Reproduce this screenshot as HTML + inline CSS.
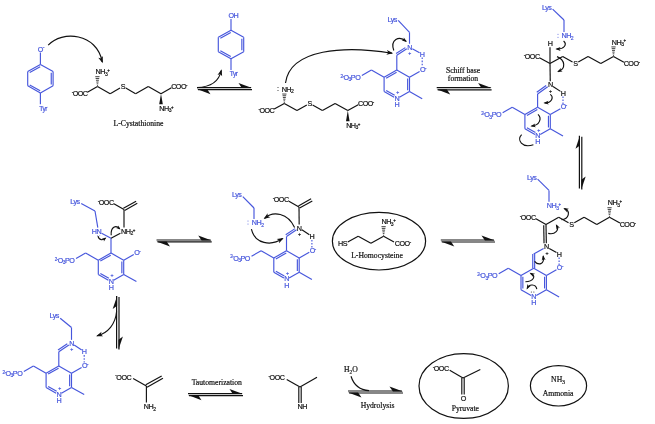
<!DOCTYPE html>
<html><head><meta charset="utf-8"><title>Cystathionine beta-lyase mechanism</title>
<style>html,body{margin:0;padding:0;background:#fff}svg{display:block;filter:blur(0.45px)}text{stroke-width:0.2px;paint-order:stroke fill}</style></head>
<body><svg width="655" height="424" viewBox="0 0 655 424" stroke-linecap="butt">
<rect width="655" height="424" fill="#fff"/>
<line x1="40.4" y1="64.4" x2="53.1" y2="71.55" stroke="#4656dc" stroke-width="1.15"/>
<line x1="53.1" y1="85.85" x2="40.4" y2="93" stroke="#4656dc" stroke-width="1.15"/>
<line x1="27.7" y1="85.85" x2="27.7" y2="71.55" stroke="#4656dc" stroke-width="1.15"/>
<line x1="27.7" y1="71.55" x2="40.4" y2="64.4" stroke="#4656dc" stroke-width="1.15"/>
<line x1="29.74" y1="72.52" x2="40.17" y2="66.65" stroke="#4656dc" stroke-width="1.15"/>
<line x1="53.1" y1="71.55" x2="53.1" y2="85.85" stroke="#4656dc" stroke-width="1.15"/>
<line x1="51.25" y1="72.85" x2="51.25" y2="84.55" stroke="#4656dc" stroke-width="1.15"/>
<line x1="40.4" y1="93" x2="27.7" y2="85.85" stroke="#4656dc" stroke-width="1.15"/>
<line x1="40.17" y1="90.75" x2="29.74" y2="84.88" stroke="#4656dc" stroke-width="1.15"/>
<line x1="40.4" y1="64.4" x2="40.4" y2="52.4" stroke="#4656dc" stroke-width="1.15"/>
<text x="37.85" y="51.58" fill="#4656dc" stroke="#4656dc" font-size="7.2" letter-spacing="-0.5" font-family='"Liberation Sans", Arial, sans-serif'>O<tspan dy="-2.16" font-size="4.46">-</tspan></text>
<line x1="40.4" y1="93" x2="40.4" y2="104.3" stroke="#4656dc" stroke-width="1.15"/>
<text x="39.3" y="110.66" fill="#4656dc" stroke="#4656dc" font-size="6.6" letter-spacing="-0.46" font-family='"Liberation Sans", Arial, sans-serif'>Tyr</text>
<path d="M48.2 45.2C62 30 97 33 102.3 62" fill="none" stroke="#111" stroke-width="1.15"/>
<polygon points="102.68,63.14 102.87,56.12 101.12,58.44 98.32,57.63" fill="#111"/>
<line x1="97.5" y1="86.5" x2="87.41" y2="92.18" stroke="#111" stroke-width="1.15"/>
<line x1="97.5" y1="86.5" x2="110.2" y2="93.65" stroke="#111" stroke-width="1.15"/>
<line x1="110.2" y1="93.65" x2="120.02" y2="88.12" stroke="#111" stroke-width="1.15"/>
<line x1="125.78" y1="88.12" x2="135.6" y2="93.65" stroke="#111" stroke-width="1.15"/>
<line x1="135.6" y1="93.65" x2="148.3" y2="86.5" stroke="#111" stroke-width="1.15"/>
<line x1="148.3" y1="86.5" x2="161" y2="93.65" stroke="#111" stroke-width="1.15"/>
<line x1="161" y1="93.65" x2="171.43" y2="87.78" stroke="#111" stroke-width="1.15"/>
<text x="71.66" y="96.23" fill="#111" stroke="#111" font-size="7.2" letter-spacing="-0.5" font-family='"Liberation Sans", Arial, sans-serif'><tspan dy="-2.16" font-size="4.46">-</tspan><tspan dy="2.16">O</tspan>OC</text>
<text x="120.75" y="89.08" fill="#111" stroke="#111" font-size="7.2" letter-spacing="-0.5" font-family='"Liberation Sans", Arial, sans-serif'>S</text>
<text x="171.15" y="89.08" fill="#111" stroke="#111" font-size="7.2" letter-spacing="-0.5" font-family='"Liberation Sans", Arial, sans-serif'>COO<tspan dy="-2.16" font-size="4.46">-</tspan></text>
<line x1="97.03" y1="85.61" x2="97.96" y2="85.6" stroke="#111" stroke-width="0.8"/>
<line x1="96.68" y1="83.83" x2="98.27" y2="83.82" stroke="#111" stroke-width="0.8"/>
<line x1="96.33" y1="82.05" x2="98.59" y2="82.03" stroke="#111" stroke-width="0.8"/>
<line x1="95.98" y1="80.27" x2="98.91" y2="80.24" stroke="#111" stroke-width="0.8"/>
<line x1="95.63" y1="78.49" x2="99.22" y2="78.46" stroke="#111" stroke-width="0.8"/>
<line x1="95.28" y1="76.71" x2="99.54" y2="76.67" stroke="#111" stroke-width="0.8"/>
<text x="95.55" y="74.18" fill="#111" stroke="#111" font-size="7.2" letter-spacing="-0.5" font-family='"Liberation Sans", Arial, sans-serif'>NH<tspan dy="1.58" font-size="5.04">3</tspan><tspan dy="-3.74" font-size="4.46">+</tspan></text>
<polygon points="161,93.65 162.8,104.25 159.2,104.25" fill="#111"/>
<text x="159.35" y="110.83" fill="#111" stroke="#111" font-size="7.2" letter-spacing="-0.5" font-family='"Liberation Sans", Arial, sans-serif'>NH<tspan dy="1.58" font-size="5.04">3</tspan><tspan dy="-3.74" font-size="4.46">+</tspan></text>
<text x="138.5" y="126.2" fill="#111" stroke="#111" font-size="7.7" text-anchor="middle" font-family='"Liberation Serif", "Times New Roman", serif'>L-Cystathionine</text>
<line x1="231" y1="30.2" x2="243.7" y2="37.35" stroke="#4656dc" stroke-width="1.15"/>
<line x1="243.7" y1="51.65" x2="231" y2="58.8" stroke="#4656dc" stroke-width="1.15"/>
<line x1="218.3" y1="51.65" x2="218.3" y2="37.35" stroke="#4656dc" stroke-width="1.15"/>
<line x1="218.3" y1="37.35" x2="231" y2="30.2" stroke="#4656dc" stroke-width="1.15"/>
<line x1="220.34" y1="38.32" x2="230.77" y2="32.45" stroke="#4656dc" stroke-width="1.15"/>
<line x1="243.7" y1="37.35" x2="243.7" y2="51.65" stroke="#4656dc" stroke-width="1.15"/>
<line x1="241.85" y1="38.65" x2="241.85" y2="50.35" stroke="#4656dc" stroke-width="1.15"/>
<line x1="231" y1="58.8" x2="218.3" y2="51.65" stroke="#4656dc" stroke-width="1.15"/>
<line x1="230.77" y1="56.55" x2="220.34" y2="50.68" stroke="#4656dc" stroke-width="1.15"/>
<line x1="231" y1="30.2" x2="231" y2="19.1" stroke="#4656dc" stroke-width="1.15"/>
<text x="228.45" y="18.08" fill="#4656dc" stroke="#4656dc" font-size="7.2" letter-spacing="-0.5" font-family='"Liberation Sans", Arial, sans-serif'>OH</text>
<line x1="231" y1="58.8" x2="231" y2="70" stroke="#4656dc" stroke-width="1.15"/>
<text x="229.7" y="76.36" fill="#4656dc" stroke="#4656dc" font-size="6.6" letter-spacing="-0.46" font-family='"Liberation Sans", Arial, sans-serif'>Tyr</text>
<line x1="197" y1="87.6" x2="251" y2="87.6" stroke="#111" stroke-width="1.2"/>
<line x1="198" y1="89.6" x2="252" y2="89.6" stroke="#111" stroke-width="1.2"/>
<polygon points="252,88.1 238.5,83 241.88,88.1" fill="#111"/>
<polygon points="197,89.1 210.5,94.2 207.12,89.1" fill="#111"/>
<path d="M197 87.6C210 87 219 82 221.3 70.5" fill="none" stroke="#111" stroke-width="1.15"/>
<polygon points="221.63,69.35 217.5,75.02 220.26,74.1 222.11,76.35" fill="#111"/>
<line x1="284.3" y1="103.4" x2="274.21" y2="109.08" stroke="#111" stroke-width="1.15"/>
<line x1="284.3" y1="103.4" x2="297" y2="110.55" stroke="#111" stroke-width="1.15"/>
<line x1="297" y1="110.55" x2="306.82" y2="105.02" stroke="#111" stroke-width="1.15"/>
<line x1="312.58" y1="105.02" x2="322.4" y2="110.55" stroke="#111" stroke-width="1.15"/>
<line x1="322.4" y1="110.55" x2="335.1" y2="103.4" stroke="#111" stroke-width="1.15"/>
<line x1="335.1" y1="103.4" x2="347.8" y2="110.55" stroke="#111" stroke-width="1.15"/>
<line x1="347.8" y1="110.55" x2="358.23" y2="104.68" stroke="#111" stroke-width="1.15"/>
<text x="258.46" y="113.13" fill="#111" stroke="#111" font-size="7.2" letter-spacing="-0.5" font-family='"Liberation Sans", Arial, sans-serif'><tspan dy="-2.16" font-size="4.46">-</tspan><tspan dy="2.16">O</tspan>OC</text>
<text x="307.55" y="105.98" fill="#111" stroke="#111" font-size="7.2" letter-spacing="-0.5" font-family='"Liberation Sans", Arial, sans-serif'>S</text>
<text x="357.95" y="105.98" fill="#111" stroke="#111" font-size="7.2" letter-spacing="-0.5" font-family='"Liberation Sans", Arial, sans-serif'>COO<tspan dy="-2.16" font-size="4.46">-</tspan></text>
<line x1="283.84" y1="102.55" x2="284.77" y2="102.55" stroke="#111" stroke-width="0.8"/>
<line x1="283.53" y1="100.84" x2="285.12" y2="100.86" stroke="#111" stroke-width="0.8"/>
<line x1="283.21" y1="99.14" x2="285.47" y2="99.16" stroke="#111" stroke-width="0.8"/>
<line x1="282.89" y1="97.44" x2="285.82" y2="97.46" stroke="#111" stroke-width="0.8"/>
<line x1="282.58" y1="95.73" x2="286.17" y2="95.77" stroke="#111" stroke-width="0.8"/>
<line x1="282.26" y1="94.03" x2="286.52" y2="94.07" stroke="#111" stroke-width="0.8"/>
<text x="281.65" y="91.58" fill="#111" stroke="#111" font-size="7.2" letter-spacing="-0.5" font-family='"Liberation Sans", Arial, sans-serif'>NH<tspan dy="1.58" font-size="5.04">2</tspan></text>
<circle cx="278" cy="87.6" r="0.5" fill="#111"/>
<circle cx="278" cy="90.6" r="0.5" fill="#111"/>
<polygon points="347.8,110.55 349.6,121.15 346,121.15" fill="#111"/>
<text x="346.15" y="127.73" fill="#111" stroke="#111" font-size="7.2" letter-spacing="-0.5" font-family='"Liberation Sans", Arial, sans-serif'>NH<tspan dy="1.58" font-size="5.04">3</tspan><tspan dy="-3.74" font-size="4.46">+</tspan></text>
<path d="M285.5 83C290 48.5 345 45.5 392 53.2" fill="none" stroke="#111" stroke-width="1.15"/>
<polygon points="393.19,53.36 386.96,50.11 388.28,52.71 386.33,54.87" fill="#111"/>
<line x1="384.1" y1="77.25" x2="396.8" y2="70.1" stroke="#4656dc" stroke-width="1.15"/>
<line x1="386.14" y1="78.22" x2="396.57" y2="72.35" stroke="#4656dc" stroke-width="1.15"/>
<line x1="396.8" y1="70.1" x2="409.5" y2="77.25" stroke="#4656dc" stroke-width="1.15"/>
<line x1="409.5" y1="77.25" x2="409.5" y2="91.55" stroke="#4656dc" stroke-width="1.15"/>
<line x1="407.65" y1="78.55" x2="407.65" y2="90.25" stroke="#4656dc" stroke-width="1.15"/>
<line x1="409.5" y1="91.55" x2="399.41" y2="97.23" stroke="#4656dc" stroke-width="1.15"/>
<line x1="384.1" y1="91.55" x2="394.19" y2="97.23" stroke="#4656dc" stroke-width="1.15"/>
<line x1="386.14" y1="90.58" x2="394.66" y2="95.37" stroke="#4656dc" stroke-width="1.15"/>
<line x1="384.1" y1="77.25" x2="384.1" y2="91.55" stroke="#4656dc" stroke-width="1.15"/>
<line x1="409.5" y1="91.55" x2="422.2" y2="98.7" stroke="#4656dc" stroke-width="1.15"/>
<line x1="409.5" y1="77.25" x2="419.59" y2="71.57" stroke="#4656dc" stroke-width="1.15"/>
<text x="419.95" y="72.18" fill="#4656dc" stroke="#4656dc" font-size="7.2" letter-spacing="-0.5" font-family='"Liberation Sans", Arial, sans-serif'>O<tspan dy="-2.16" font-size="4.46">-</tspan></text>
<line x1="384.1" y1="77.25" x2="371.4" y2="70.1" stroke="#4656dc" stroke-width="1.15"/>
<line x1="371.4" y1="70.1" x2="361.84" y2="75.48" stroke="#4656dc" stroke-width="1.15"/>
<text x="340.47" y="79.83" fill="#4656dc" stroke="#4656dc" font-size="7.2" letter-spacing="-0.5" font-family='"Liberation Sans", Arial, sans-serif'><tspan dy="-2.16" font-size="4.46">2-</tspan><tspan dy="2.16">O</tspan><tspan dy="1.58" font-size="5.04">3</tspan><tspan dy="-1.58">P</tspan>O</text>
<text x="394.45" y="100.78" fill="#4656dc" stroke="#4656dc" font-size="7.2" letter-spacing="-0.5" font-family='"Liberation Sans", Arial, sans-serif'>N</text>
<text x="394.45" y="106.88" fill="#4656dc" stroke="#4656dc" font-size="7.2" letter-spacing="-0.5" font-family='"Liberation Sans", Arial, sans-serif'>H</text>
<text x="396.36" y="94.36" fill="#4656dc" stroke="#4656dc" font-size="5.2" letter-spacing="-0.36" font-family='"Liberation Sans", Arial, sans-serif'>+</text>
<line x1="396.8" y1="70.1" x2="396.8" y2="55.2" stroke="#4656dc" stroke-width="1.15"/>
<line x1="396.8" y1="55.2" x2="406.8" y2="48.86" stroke="#4656dc" stroke-width="1.15"/>
<line x1="396.06" y1="53.48" x2="405.3" y2="47.62" stroke="#4656dc" stroke-width="1.15"/>
<text x="407.15" y="49.73" fill="#4656dc" stroke="#4656dc" font-size="7.2" letter-spacing="-0.5" font-family='"Liberation Sans", Arial, sans-serif'>N</text>
<text x="408.16" y="55.01" fill="#4656dc" stroke="#4656dc" font-size="5.2" letter-spacing="-0.36" font-family='"Liberation Sans", Arial, sans-serif'>+</text>
<line x1="412.31" y1="48.69" x2="419.57" y2="52.66" stroke="#4656dc" stroke-width="1.15"/>
<text x="419.85" y="56.68" fill="#4656dc" stroke="#4656dc" font-size="7.2" letter-spacing="-0.5" font-family='"Liberation Sans", Arial, sans-serif'>H</text>
<line x1="422.2" y1="57.5" x2="422.2" y2="66.7" stroke="#4656dc" stroke-width="1.15" stroke-dasharray="1.6 1.5"/>
<line x1="409.5" y1="43.75" x2="409.5" y2="32.35" stroke="#4656dc" stroke-width="1.15"/>
<line x1="409.5" y1="32.35" x2="398.2" y2="20.4" stroke="#4656dc" stroke-width="1.15"/>
<text x="387.46" y="22.38" fill="#4656dc" stroke="#4656dc" font-size="7.2" letter-spacing="-0.5" font-family='"Liberation Sans", Arial, sans-serif'>Lys</text>
<path d="M393.8 50.5C390 40 399 35 406 41.3" fill="none" stroke="#111" stroke-width="1.15"/>
<polygon points="406.99,41.98 403.82,37.42 403.78,39.76 401.6,40.62" fill="#111"/>
<line x1="436.7" y1="87.6" x2="490.6" y2="87.6" stroke="#111" stroke-width="1.2"/>
<line x1="437.7" y1="89.8" x2="491.6" y2="89.8" stroke="#111" stroke-width="1.2"/>
<polygon points="491.6,88.1 478.1,83 481.48,88.1" fill="#111"/>
<polygon points="436.7,89.3 450.2,94.4 446.82,89.3" fill="#111"/>
<text x="463" y="72.8" fill="#111" stroke="#111" font-size="7.7" text-anchor="middle" font-family='"Liberation Serif", "Times New Roman", serif'>Schiff base</text>
<text x="463" y="80.6" fill="#111" stroke="#111" font-size="7.7" text-anchor="middle" font-family='"Liberation Serif", "Times New Roman", serif'>formation</text>
<line x1="550" y1="63.6" x2="539.91" y2="57.92" stroke="#111" stroke-width="1.15"/>
<line x1="550" y1="63.6" x2="562.7" y2="56.45" stroke="#111" stroke-width="1.15"/>
<line x1="562.7" y1="56.45" x2="572.52" y2="61.98" stroke="#111" stroke-width="1.15"/>
<line x1="578.28" y1="61.98" x2="588.1" y2="56.45" stroke="#111" stroke-width="1.15"/>
<line x1="588.1" y1="56.45" x2="600.8" y2="63.6" stroke="#111" stroke-width="1.15"/>
<line x1="600.8" y1="63.6" x2="613.5" y2="56.45" stroke="#111" stroke-width="1.15"/>
<line x1="613.5" y1="56.45" x2="623.93" y2="62.32" stroke="#111" stroke-width="1.15"/>
<text x="523.76" y="59.03" fill="#111" stroke="#111" font-size="7.2" letter-spacing="-0.5" font-family='"Liberation Sans", Arial, sans-serif'><tspan dy="-2.16" font-size="4.46">-</tspan><tspan dy="2.16">O</tspan>OC</text>
<text x="573.25" y="66.18" fill="#111" stroke="#111" font-size="7.2" letter-spacing="-0.5" font-family='"Liberation Sans", Arial, sans-serif'>S</text>
<text x="623.65" y="66.18" fill="#111" stroke="#111" font-size="7.2" letter-spacing="-0.5" font-family='"Liberation Sans", Arial, sans-serif'>COO<tspan dy="-2.16" font-size="4.46">-</tspan></text>
<line x1="613.03" y1="55.58" x2="613.97" y2="55.58" stroke="#111" stroke-width="0.8"/>
<line x1="612.7" y1="53.85" x2="614.3" y2="53.85" stroke="#111" stroke-width="0.8"/>
<line x1="612.37" y1="52.12" x2="614.63" y2="52.12" stroke="#111" stroke-width="0.8"/>
<line x1="612.03" y1="50.38" x2="614.97" y2="50.38" stroke="#111" stroke-width="0.8"/>
<line x1="611.7" y1="48.65" x2="615.3" y2="48.65" stroke="#111" stroke-width="0.8"/>
<line x1="611.37" y1="46.92" x2="615.63" y2="46.92" stroke="#111" stroke-width="0.8"/>
<text x="611.75" y="44.63" fill="#111" stroke="#111" font-size="7.2" letter-spacing="-0.5" font-family='"Liberation Sans", Arial, sans-serif'>NH<tspan dy="1.58" font-size="5.04">3</tspan><tspan dy="-3.74" font-size="4.46">+</tspan></text>
<text x="547.65" y="46.18" fill="#111" stroke="#111" font-size="7.2" letter-spacing="-0.5" font-family='"Liberation Sans", Arial, sans-serif'>H</text>
<line x1="550" y1="47.2" x2="550" y2="63.6" stroke="#111" stroke-width="1.15"/>
<line x1="524.9" y1="114.45" x2="537.6" y2="107.3" stroke="#4656dc" stroke-width="1.15"/>
<line x1="526.94" y1="115.42" x2="537.37" y2="109.55" stroke="#4656dc" stroke-width="1.15"/>
<line x1="537.6" y1="107.3" x2="550.3" y2="114.45" stroke="#4656dc" stroke-width="1.15"/>
<line x1="550.3" y1="114.45" x2="550.3" y2="128.75" stroke="#4656dc" stroke-width="1.15"/>
<line x1="548.45" y1="115.75" x2="548.45" y2="127.45" stroke="#4656dc" stroke-width="1.15"/>
<line x1="550.3" y1="128.75" x2="540.21" y2="134.43" stroke="#4656dc" stroke-width="1.15"/>
<line x1="524.9" y1="128.75" x2="534.99" y2="134.43" stroke="#4656dc" stroke-width="1.15"/>
<line x1="526.94" y1="127.78" x2="535.46" y2="132.57" stroke="#4656dc" stroke-width="1.15"/>
<line x1="524.9" y1="114.45" x2="524.9" y2="128.75" stroke="#4656dc" stroke-width="1.15"/>
<line x1="550.3" y1="128.75" x2="563" y2="135.9" stroke="#4656dc" stroke-width="1.15"/>
<line x1="550.3" y1="114.45" x2="560.39" y2="108.77" stroke="#4656dc" stroke-width="1.15"/>
<text x="560.75" y="109.38" fill="#4656dc" stroke="#4656dc" font-size="7.2" letter-spacing="-0.5" font-family='"Liberation Sans", Arial, sans-serif'>O<tspan dy="-2.16" font-size="4.46">-</tspan></text>
<line x1="524.9" y1="114.45" x2="512.2" y2="107.3" stroke="#4656dc" stroke-width="1.15"/>
<line x1="512.2" y1="107.3" x2="502.64" y2="112.68" stroke="#4656dc" stroke-width="1.15"/>
<text x="481.27" y="117.03" fill="#4656dc" stroke="#4656dc" font-size="7.2" letter-spacing="-0.5" font-family='"Liberation Sans", Arial, sans-serif'><tspan dy="-2.16" font-size="4.46">2-</tspan><tspan dy="2.16">O</tspan><tspan dy="1.58" font-size="5.04">3</tspan><tspan dy="-1.58">P</tspan>O</text>
<text x="535.25" y="137.98" fill="#4656dc" stroke="#4656dc" font-size="7.2" letter-spacing="-0.5" font-family='"Liberation Sans", Arial, sans-serif'>N</text>
<text x="535.25" y="144.08" fill="#4656dc" stroke="#4656dc" font-size="7.2" letter-spacing="-0.5" font-family='"Liberation Sans", Arial, sans-serif'>H</text>
<text x="537.16" y="131.56" fill="#4656dc" stroke="#4656dc" font-size="5.2" letter-spacing="-0.36" font-family='"Liberation Sans", Arial, sans-serif'>+</text>
<line x1="550" y1="63.6" x2="550.25" y2="81.25" stroke="#111" stroke-width="1.15"/>
<line x1="537.6" y1="107.3" x2="537.6" y2="94" stroke="#4656dc" stroke-width="1.15"/>
<line x1="537.6" y1="94" x2="547.7" y2="86.72" stroke="#4656dc" stroke-width="1.15"/>
<line x1="536.76" y1="92.32" x2="546.14" y2="85.57" stroke="#4656dc" stroke-width="1.15"/>
<text x="547.95" y="87.43" fill="#111" stroke="#111" font-size="7.2" letter-spacing="-0.5" font-family='"Liberation Sans", Arial, sans-serif'>N</text>
<text x="548.96" y="92.71" fill="#111" stroke="#111" font-size="5.2" letter-spacing="-0.36" font-family='"Liberation Sans", Arial, sans-serif'>+</text>
<line x1="552.99" y1="86.58" x2="560.48" y2="91.38" stroke="#111" stroke-width="1.15"/>
<text x="560.65" y="95.58" fill="#111" stroke="#111" font-size="7.2" letter-spacing="-0.5" font-family='"Liberation Sans", Arial, sans-serif'>H</text>
<line x1="563" y1="96.4" x2="563" y2="103.9" stroke="#4656dc" stroke-width="1.15" stroke-dasharray="1.6 1.5"/>
<text x="561.45" y="38.28" fill="#4656dc" stroke="#4656dc" font-size="7.2" letter-spacing="-0.5" font-family='"Liberation Sans", Arial, sans-serif'>NH<tspan dy="1.58" font-size="5.04">2</tspan></text>
<circle cx="558" cy="34.2" r="0.5" fill="#4656dc"/>
<circle cx="558" cy="37.2" r="0.5" fill="#4656dc"/>
<line x1="564" y1="20" x2="564" y2="32" stroke="#4656dc" stroke-width="1.15"/>
<line x1="564" y1="20" x2="552.6" y2="9.2" stroke="#4656dc" stroke-width="1.15"/>
<text x="542.06" y="9.58" fill="#4656dc" stroke="#4656dc" font-size="7.2" letter-spacing="-0.5" font-family='"Liberation Sans", Arial, sans-serif'>Lys</text>
<path d="M563.6 41C567.5 44.5 564 49.5 556.6 49" fill="none" stroke="#111" stroke-width="1.15"/>
<polygon points="555.4,49.02 560.63,50.88 559.3,48.95 560.56,46.98" fill="#111"/>
<path d="M557 56.6C565.5 60 566 69 558.2 71.6" fill="none" stroke="#111" stroke-width="1.15"/>
<polygon points="557.12,72.12 562.65,71.6 560.63,70.42 560.94,68.1" fill="#111"/>
<path d="M550.2 94.4C554 97 552 103 544.6 103" fill="none" stroke="#111" stroke-width="1.15"/>
<polygon points="543.41,103.12 548.77,104.54 547.29,102.73 548.39,100.66" fill="#111"/>
<path d="M538 114.4C542 118 540 125.5 531.6 126" fill="none" stroke="#111" stroke-width="1.15"/>
<polygon points="530.42,126.2 535.87,127.26 534.26,125.55 535.22,123.41" fill="#111"/>
<path d="M521.6 134.6C516.5 140 522 148.5 533.4 144.8" fill="none" stroke="#111" stroke-width="1.15"/>
<line x1="579.4" y1="135.7" x2="579.4" y2="188.6" stroke="#111" stroke-width="1.2"/>
<line x1="581.8" y1="136.7" x2="581.8" y2="189.6" stroke="#111" stroke-width="1.2"/>
<polygon points="579.9,135.7 575.5,148.7 579.9,145.45" fill="#111"/>
<polygon points="581.3,189.6 585.7,176.6 581.3,179.85" fill="#111"/>
<line x1="546" y1="224.4" x2="535.91" y2="218.72" stroke="#111" stroke-width="1.15"/>
<line x1="546" y1="224.4" x2="558.7" y2="217.25" stroke="#111" stroke-width="1.15"/>
<line x1="558.7" y1="217.25" x2="568.52" y2="222.78" stroke="#111" stroke-width="1.15"/>
<line x1="574.28" y1="222.78" x2="584.1" y2="217.25" stroke="#111" stroke-width="1.15"/>
<line x1="584.1" y1="217.25" x2="596.8" y2="224.4" stroke="#111" stroke-width="1.15"/>
<line x1="596.8" y1="224.4" x2="609.5" y2="217.25" stroke="#111" stroke-width="1.15"/>
<line x1="609.5" y1="217.25" x2="619.93" y2="223.12" stroke="#111" stroke-width="1.15"/>
<text x="519.76" y="219.83" fill="#111" stroke="#111" font-size="7.2" letter-spacing="-0.5" font-family='"Liberation Sans", Arial, sans-serif'><tspan dy="-2.16" font-size="4.46">-</tspan><tspan dy="2.16">O</tspan>OC</text>
<text x="569.25" y="226.98" fill="#111" stroke="#111" font-size="7.2" letter-spacing="-0.5" font-family='"Liberation Sans", Arial, sans-serif'>S</text>
<text x="619.65" y="226.98" fill="#111" stroke="#111" font-size="7.2" letter-spacing="-0.5" font-family='"Liberation Sans", Arial, sans-serif'>COO<tspan dy="-2.16" font-size="4.46">-</tspan></text>
<line x1="609.03" y1="216.38" x2="609.97" y2="216.38" stroke="#111" stroke-width="0.8"/>
<line x1="608.7" y1="214.65" x2="610.3" y2="214.65" stroke="#111" stroke-width="0.8"/>
<line x1="608.37" y1="212.92" x2="610.63" y2="212.92" stroke="#111" stroke-width="0.8"/>
<line x1="608.03" y1="211.18" x2="610.97" y2="211.18" stroke="#111" stroke-width="0.8"/>
<line x1="607.7" y1="209.45" x2="611.3" y2="209.45" stroke="#111" stroke-width="0.8"/>
<line x1="607.37" y1="207.72" x2="611.63" y2="207.72" stroke="#111" stroke-width="0.8"/>
<text x="607.75" y="205.43" fill="#111" stroke="#111" font-size="7.2" letter-spacing="-0.5" font-family='"Liberation Sans", Arial, sans-serif'>NH<tspan dy="1.58" font-size="5.04">3</tspan><tspan dy="-3.74" font-size="4.46">+</tspan></text>
<line x1="521" y1="275.45" x2="533.7" y2="268.3" stroke="#4656dc" stroke-width="1.15"/>
<line x1="533.7" y1="268.3" x2="546.4" y2="275.45" stroke="#4656dc" stroke-width="1.15"/>
<line x1="546.4" y1="275.45" x2="546.4" y2="289.75" stroke="#4656dc" stroke-width="1.15"/>
<line x1="544.55" y1="276.75" x2="544.55" y2="288.45" stroke="#4656dc" stroke-width="1.15"/>
<line x1="546.4" y1="289.75" x2="536.31" y2="295.43" stroke="#4656dc" stroke-width="1.15"/>
<line x1="521" y1="289.75" x2="531.09" y2="295.43" stroke="#4656dc" stroke-width="1.15"/>
<line x1="521" y1="275.45" x2="521" y2="289.75" stroke="#4656dc" stroke-width="1.15"/>
<line x1="522.85" y1="276.75" x2="522.85" y2="288.45" stroke="#4656dc" stroke-width="1.15"/>
<line x1="546.4" y1="289.75" x2="559.1" y2="296.9" stroke="#4656dc" stroke-width="1.15"/>
<line x1="546.4" y1="275.45" x2="556.49" y2="269.77" stroke="#4656dc" stroke-width="1.15"/>
<text x="556.85" y="270.38" fill="#4656dc" stroke="#4656dc" font-size="7.2" letter-spacing="-0.5" font-family='"Liberation Sans", Arial, sans-serif'>O<tspan dy="-2.16" font-size="4.46">-</tspan></text>
<line x1="521" y1="275.45" x2="508.3" y2="268.3" stroke="#4656dc" stroke-width="1.15"/>
<line x1="508.3" y1="268.3" x2="498.74" y2="273.68" stroke="#4656dc" stroke-width="1.15"/>
<text x="477.37" y="278.03" fill="#4656dc" stroke="#4656dc" font-size="7.2" letter-spacing="-0.5" font-family='"Liberation Sans", Arial, sans-serif'><tspan dy="-2.16" font-size="4.46">2-</tspan><tspan dy="2.16">O</tspan><tspan dy="1.58" font-size="5.04">3</tspan><tspan dy="-1.58">P</tspan>O</text>
<text x="531.35" y="298.98" fill="#4656dc" stroke="#4656dc" font-size="7.2" letter-spacing="-0.5" font-family='"Liberation Sans", Arial, sans-serif'>N</text>
<text x="531.35" y="305.08" fill="#4656dc" stroke="#4656dc" font-size="7.2" letter-spacing="-0.5" font-family='"Liberation Sans", Arial, sans-serif'>H</text>
<circle cx="531.3" cy="292" r="0.5" fill="#111"/>
<circle cx="533.9" cy="292" r="0.5" fill="#111"/>
<line x1="546" y1="224.4" x2="546.34" y2="243.25" stroke="#111" stroke-width="1.15"/>
<line x1="543.71" y1="225.24" x2="544.04" y2="243.29" stroke="#111" stroke-width="1.15"/>
<line x1="532.75" y1="268.3" x2="532.75" y2="254" stroke="#4656dc" stroke-width="1.15"/>
<line x1="534.65" y1="268.3" x2="534.65" y2="254" stroke="#4656dc" stroke-width="1.15"/>
<line x1="533.7" y1="254" x2="543.61" y2="248.42" stroke="#4656dc" stroke-width="1.15"/>
<text x="544.05" y="249.43" fill="#111" stroke="#111" font-size="7.2" letter-spacing="-0.5" font-family='"Liberation Sans", Arial, sans-serif'>N</text>
<text x="545.46" y="254.71" fill="#111" stroke="#111" font-size="5.2" letter-spacing="-0.36" font-family='"Liberation Sans", Arial, sans-serif'>+</text>
<line x1="549.19" y1="248.42" x2="556.49" y2="252.53" stroke="#111" stroke-width="1.15"/>
<text x="556.75" y="256.58" fill="#111" stroke="#111" font-size="7.2" letter-spacing="-0.5" font-family='"Liberation Sans", Arial, sans-serif'>H</text>
<line x1="559.1" y1="257.4" x2="559.1" y2="264.9" stroke="#4656dc" stroke-width="1.15" stroke-dasharray="1.6 1.5"/>
<text x="546.85" y="207.98" fill="#4656dc" stroke="#4656dc" font-size="7.2" letter-spacing="-0.5" font-family='"Liberation Sans", Arial, sans-serif'>NH<tspan dy="1.58" font-size="5.04">3</tspan><tspan dy="-3.74" font-size="4.46">+</tspan></text>
<line x1="549" y1="190.4" x2="549" y2="201.8" stroke="#4656dc" stroke-width="1.15"/>
<line x1="549" y1="190.4" x2="537.6" y2="179.2" stroke="#4656dc" stroke-width="1.15"/>
<text x="527.06" y="179.78" fill="#4656dc" stroke="#4656dc" font-size="7.2" letter-spacing="-0.5" font-family='"Liberation Sans", Arial, sans-serif'>Lys</text>
<path d="M561.5 219.6C569 219 571 211 564.4 208.6" fill="none" stroke="#111" stroke-width="1.15"/>
<polygon points="563.34,208.03 567,212.21 566.78,209.88 568.85,208.78" fill="#111"/>
<path d="M548.2 233.4C555 235 560 230 556.4 225.2" fill="none" stroke="#111" stroke-width="1.15"/>
<polygon points="555.83,224.15 556.59,229.65 557.69,227.57 560.02,227.79" fill="#111"/>
<path d="M534.6 261.3C538 265.5 545 265 543.2 256.2" fill="none" stroke="#111" stroke-width="1.15"/>
<polygon points="543.08,255.01 541.67,260.38 543.48,258.89 545.55,259.98" fill="#111"/>
<path d="M525.4 281.8C533 281.5 537 276 530.6 273.4" fill="none" stroke="#111" stroke-width="1.15"/>
<polygon points="529.55,272.81 533.13,277.06 532.95,274.72 535.04,273.66" fill="#111"/>
<path d="M536.8 289.2C536 284 529 283.5 527.2 288.4" fill="none" stroke="#111" stroke-width="1.15"/>
<polygon points="526.62,289.45 530.85,285.85 528.51,286.04 527.44,283.96" fill="#111"/>
<line x1="440.8" y1="240" x2="494" y2="240" stroke="#111" stroke-width="1.2"/>
<line x1="441.8" y1="242" x2="495" y2="242" stroke="#111" stroke-width="1.2"/>
<polygon points="495,240.5 481.5,235.4 484.88,240.5" fill="#111"/>
<polygon points="440.8,241.5 454.3,246.6 450.93,241.5" fill="#111"/>
<ellipse cx="379" cy="241.2" rx="46.6" ry="28.8" fill="none" stroke="#111" stroke-width="1.2"/>
<line x1="383.6" y1="236.2" x2="370.9" y2="243.35" stroke="#111" stroke-width="1.15"/>
<line x1="370.9" y1="243.35" x2="358.2" y2="236.2" stroke="#111" stroke-width="1.15"/>
<line x1="358.2" y1="236.2" x2="347.77" y2="242.07" stroke="#111" stroke-width="1.15"/>
<line x1="383.6" y1="236.2" x2="394.03" y2="242.07" stroke="#111" stroke-width="1.15"/>
<text x="338.05" y="245.93" fill="#111" stroke="#111" font-size="7.2" letter-spacing="-0.5" font-family='"Liberation Sans", Arial, sans-serif'>HS</text>
<text x="394.75" y="245.93" fill="#111" stroke="#111" font-size="7.2" letter-spacing="-0.5" font-family='"Liberation Sans", Arial, sans-serif'>COO<tspan dy="-2.16" font-size="4.46">-</tspan></text>
<line x1="383.13" y1="235.33" x2="384.07" y2="235.33" stroke="#111" stroke-width="0.8"/>
<line x1="382.8" y1="233.6" x2="384.4" y2="233.6" stroke="#111" stroke-width="0.8"/>
<line x1="382.47" y1="231.87" x2="384.73" y2="231.87" stroke="#111" stroke-width="0.8"/>
<line x1="382.13" y1="230.13" x2="385.07" y2="230.13" stroke="#111" stroke-width="0.8"/>
<line x1="381.8" y1="228.4" x2="385.4" y2="228.4" stroke="#111" stroke-width="0.8"/>
<line x1="381.47" y1="226.67" x2="385.73" y2="226.67" stroke="#111" stroke-width="0.8"/>
<text x="381.45" y="224.18" fill="#111" stroke="#111" font-size="7.2" letter-spacing="-0.5" font-family='"Liberation Sans", Arial, sans-serif'>NH<tspan dy="1.58" font-size="5.04">3</tspan><tspan dy="-3.74" font-size="4.46">+</tspan></text>
<text x="377" y="257.6" fill="#111" stroke="#111" font-size="7.7" text-anchor="middle" font-family='"Liberation Serif", "Times New Roman", serif'>L-Homocysteine</text>
<line x1="299" y1="207" x2="288.91" y2="201.32" stroke="#111" stroke-width="1.15"/>
<text x="272.76" y="202.43" fill="#111" stroke="#111" font-size="7.2" letter-spacing="-0.5" font-family='"Liberation Sans", Arial, sans-serif'><tspan dy="-2.16" font-size="4.46">-</tspan><tspan dy="2.16">O</tspan>OC</text>
<line x1="299.59" y1="208.05" x2="312.29" y2="200.9" stroke="#111" stroke-width="1.15"/>
<line x1="298.41" y1="205.95" x2="311.11" y2="198.8" stroke="#111" stroke-width="1.15"/>
<line x1="273.8" y1="257.95" x2="286.5" y2="250.8" stroke="#4656dc" stroke-width="1.15"/>
<line x1="275.84" y1="258.92" x2="286.27" y2="253.05" stroke="#4656dc" stroke-width="1.15"/>
<line x1="286.5" y1="250.8" x2="299.2" y2="257.95" stroke="#4656dc" stroke-width="1.15"/>
<line x1="299.2" y1="257.95" x2="299.2" y2="272.25" stroke="#4656dc" stroke-width="1.15"/>
<line x1="297.35" y1="259.25" x2="297.35" y2="270.95" stroke="#4656dc" stroke-width="1.15"/>
<line x1="299.2" y1="272.25" x2="289.11" y2="277.93" stroke="#4656dc" stroke-width="1.15"/>
<line x1="273.8" y1="272.25" x2="283.89" y2="277.93" stroke="#4656dc" stroke-width="1.15"/>
<line x1="275.84" y1="271.28" x2="284.36" y2="276.07" stroke="#4656dc" stroke-width="1.15"/>
<line x1="273.8" y1="257.95" x2="273.8" y2="272.25" stroke="#4656dc" stroke-width="1.15"/>
<line x1="299.2" y1="272.25" x2="311.9" y2="279.4" stroke="#4656dc" stroke-width="1.15"/>
<line x1="299.2" y1="257.95" x2="309.29" y2="252.27" stroke="#4656dc" stroke-width="1.15"/>
<text x="309.65" y="252.88" fill="#4656dc" stroke="#4656dc" font-size="7.2" letter-spacing="-0.5" font-family='"Liberation Sans", Arial, sans-serif'>O<tspan dy="-2.16" font-size="4.46">-</tspan></text>
<line x1="273.8" y1="257.95" x2="261.1" y2="250.8" stroke="#4656dc" stroke-width="1.15"/>
<line x1="261.1" y1="250.8" x2="251.54" y2="256.18" stroke="#4656dc" stroke-width="1.15"/>
<text x="230.17" y="260.53" fill="#4656dc" stroke="#4656dc" font-size="7.2" letter-spacing="-0.5" font-family='"Liberation Sans", Arial, sans-serif'><tspan dy="-2.16" font-size="4.46">2-</tspan><tspan dy="2.16">O</tspan><tspan dy="1.58" font-size="5.04">3</tspan><tspan dy="-1.58">P</tspan>O</text>
<text x="284.15" y="281.48" fill="#4656dc" stroke="#4656dc" font-size="7.2" letter-spacing="-0.5" font-family='"Liberation Sans", Arial, sans-serif'>N</text>
<text x="284.15" y="287.58" fill="#4656dc" stroke="#4656dc" font-size="7.2" letter-spacing="-0.5" font-family='"Liberation Sans", Arial, sans-serif'>H</text>
<text x="286.06" y="275.06" fill="#4656dc" stroke="#4656dc" font-size="5.2" letter-spacing="-0.36" font-family='"Liberation Sans", Arial, sans-serif'>+</text>
<line x1="299" y1="207" x2="299.17" y2="224.45" stroke="#111" stroke-width="1.15"/>
<line x1="286.5" y1="250.8" x2="286.5" y2="236.5" stroke="#4656dc" stroke-width="1.15"/>
<line x1="286.5" y1="236.5" x2="296.54" y2="229.82" stroke="#4656dc" stroke-width="1.15"/>
<line x1="285.72" y1="234.79" x2="295.01" y2="228.61" stroke="#4656dc" stroke-width="1.15"/>
<text x="296.85" y="230.63" fill="#111" stroke="#111" font-size="7.2" letter-spacing="-0.5" font-family='"Liberation Sans", Arial, sans-serif'>N</text>
<text x="298.06" y="235.91" fill="#111" stroke="#111" font-size="5.2" letter-spacing="-0.36" font-family='"Liberation Sans", Arial, sans-serif'>+</text>
<line x1="301.86" y1="229.82" x2="309.4" y2="234.84" stroke="#111" stroke-width="1.15"/>
<text x="309.55" y="239.08" fill="#111" stroke="#111" font-size="7.2" letter-spacing="-0.5" font-family='"Liberation Sans", Arial, sans-serif'>H</text>
<line x1="311.9" y1="239.9" x2="311.9" y2="247.4" stroke="#4656dc" stroke-width="1.15" stroke-dasharray="1.6 1.5"/>
<text x="251.85" y="225.18" fill="#4656dc" stroke="#4656dc" font-size="7.2" letter-spacing="-0.5" font-family='"Liberation Sans", Arial, sans-serif'>NH<tspan dy="1.58" font-size="5.04">2</tspan></text>
<circle cx="248" cy="221.1" r="0.5" fill="#4656dc"/>
<circle cx="248" cy="224.1" r="0.5" fill="#4656dc"/>
<line x1="254" y1="208" x2="254" y2="219" stroke="#4656dc" stroke-width="1.15"/>
<line x1="254" y1="208" x2="242.8" y2="196.6" stroke="#4656dc" stroke-width="1.15"/>
<text x="232.06" y="196.98" fill="#4656dc" stroke="#4656dc" font-size="7.2" letter-spacing="-0.5" font-family='"Liberation Sans", Arial, sans-serif'>Lys</text>
<path d="M294.6 227.6C288 213 273 210.5 264.6 218.4" fill="none" stroke="#111" stroke-width="1.15"/>
<polygon points="263.63,219.11 270.38,217.16 267.63,216.19 267.55,213.28" fill="#111"/>
<path d="M251.4 229.2C255 244 271 246.5 282.6 238.6" fill="none" stroke="#111" stroke-width="1.15"/>
<polygon points="283.65,238.02 276.71,239.11 279.32,240.41 279.03,243.31" fill="#111"/>
<line x1="156.5" y1="240" x2="210.7" y2="240" stroke="#111" stroke-width="1.2"/>
<line x1="157.5" y1="241.9" x2="211.7" y2="241.9" stroke="#111" stroke-width="1.2"/>
<polygon points="211.7,240.5 198.2,235.4 201.57,240.5" fill="#111"/>
<polygon points="156.5,241.4 170,246.5 166.62,241.4" fill="#111"/>
<line x1="98.3" y1="260.15" x2="111" y2="253" stroke="#4656dc" stroke-width="1.15"/>
<line x1="100.34" y1="261.12" x2="110.77" y2="255.25" stroke="#4656dc" stroke-width="1.15"/>
<line x1="111" y1="253" x2="123.7" y2="260.15" stroke="#4656dc" stroke-width="1.15"/>
<line x1="123.7" y1="260.15" x2="123.7" y2="274.45" stroke="#4656dc" stroke-width="1.15"/>
<line x1="121.85" y1="261.45" x2="121.85" y2="273.15" stroke="#4656dc" stroke-width="1.15"/>
<line x1="123.7" y1="274.45" x2="113.61" y2="280.13" stroke="#4656dc" stroke-width="1.15"/>
<line x1="98.3" y1="274.45" x2="108.39" y2="280.13" stroke="#4656dc" stroke-width="1.15"/>
<line x1="100.34" y1="273.48" x2="108.86" y2="278.27" stroke="#4656dc" stroke-width="1.15"/>
<line x1="98.3" y1="260.15" x2="98.3" y2="274.45" stroke="#4656dc" stroke-width="1.15"/>
<line x1="123.7" y1="274.45" x2="136.4" y2="281.6" stroke="#4656dc" stroke-width="1.15"/>
<line x1="123.7" y1="260.15" x2="133.79" y2="254.47" stroke="#4656dc" stroke-width="1.15"/>
<text x="134.15" y="255.08" fill="#4656dc" stroke="#4656dc" font-size="7.2" letter-spacing="-0.5" font-family='"Liberation Sans", Arial, sans-serif'>O<tspan dy="-2.16" font-size="4.46">-</tspan></text>
<line x1="98.3" y1="260.15" x2="85.6" y2="253" stroke="#4656dc" stroke-width="1.15"/>
<line x1="85.6" y1="253" x2="76.04" y2="258.38" stroke="#4656dc" stroke-width="1.15"/>
<text x="54.67" y="262.73" fill="#4656dc" stroke="#4656dc" font-size="7.2" letter-spacing="-0.5" font-family='"Liberation Sans", Arial, sans-serif'><tspan dy="-2.16" font-size="4.46">2-</tspan><tspan dy="2.16">O</tspan><tspan dy="1.58" font-size="5.04">3</tspan><tspan dy="-1.58">P</tspan>O</text>
<text x="108.65" y="283.68" fill="#4656dc" stroke="#4656dc" font-size="7.2" letter-spacing="-0.5" font-family='"Liberation Sans", Arial, sans-serif'>N</text>
<text x="108.65" y="289.78" fill="#4656dc" stroke="#4656dc" font-size="7.2" letter-spacing="-0.5" font-family='"Liberation Sans", Arial, sans-serif'>H</text>
<text x="110.56" y="277.26" fill="#4656dc" stroke="#4656dc" font-size="5.2" letter-spacing="-0.36" font-family='"Liberation Sans", Arial, sans-serif'>+</text>
<line x1="111" y1="253" x2="111" y2="238.2" stroke="#4656dc" stroke-width="1.15"/>
<line x1="124" y1="209.4" x2="113.91" y2="203.72" stroke="#111" stroke-width="1.15"/>
<text x="97.76" y="204.83" fill="#111" stroke="#111" font-size="7.2" letter-spacing="-0.5" font-family='"Liberation Sans", Arial, sans-serif'><tspan dy="-2.16" font-size="4.46">-</tspan><tspan dy="2.16">O</tspan>OC</text>
<line x1="124.59" y1="210.45" x2="137.29" y2="203.3" stroke="#111" stroke-width="1.15"/>
<line x1="123.41" y1="208.35" x2="136.11" y2="201.2" stroke="#111" stroke-width="1.15"/>
<line x1="124" y1="209.4" x2="124" y2="227.6" stroke="#111" stroke-width="1.15"/>
<text x="121.05" y="233.88" fill="#111" stroke="#111" font-size="7.2" letter-spacing="-0.5" font-family='"Liberation Sans", Arial, sans-serif'>NH<tspan dy="1.58" font-size="5.04">2</tspan><tspan dy="-3.74" font-size="4.46">+</tspan></text>
<line x1="111" y1="238.2" x2="120.4" y2="233.2" stroke="#111" stroke-width="1.15"/>
<text x="91.75" y="233.88" fill="#4656dc" stroke="#4656dc" font-size="7.2" letter-spacing="-0.5" font-family='"Liberation Sans", Arial, sans-serif'>HN</text>
<line x1="111" y1="238.2" x2="101.6" y2="233.2" stroke="#4656dc" stroke-width="1.15"/>
<line x1="95" y1="211" x2="97.8" y2="227.6" stroke="#4656dc" stroke-width="1.15"/>
<line x1="95" y1="211" x2="81.2" y2="203.6" stroke="#4656dc" stroke-width="1.15"/>
<text x="70.26" y="204.38" fill="#4656dc" stroke="#4656dc" font-size="7.2" letter-spacing="-0.5" font-family='"Liberation Sans", Arial, sans-serif'>Lys</text>
<circle cx="97.6" cy="235.8" r="0.45" fill="#4656dc"/>
<circle cx="99.8" cy="235.8" r="0.45" fill="#4656dc"/>
<path d="M98 236.2C99 240.5 103 240.5 105.4 238.2" fill="none" stroke="#111" stroke-width="1.15"/>
<polygon points="106.34,237.46 101.83,238.84 103.75,239.5 103.93,241.51" fill="#111"/>
<path d="M111.2 235.2C110.5 227 116 224.5 119.6 228.8" fill="none" stroke="#111" stroke-width="1.15"/>
<polygon points="120.48,229.61 118.4,225.38 118.06,227.38 116.09,227.88" fill="#111"/>
<line x1="116.6" y1="296" x2="116.6" y2="348.6" stroke="#111" stroke-width="1.2"/>
<line x1="119" y1="297" x2="119" y2="349.6" stroke="#111" stroke-width="1.2"/>
<polygon points="117.1,296 112.7,309 117.1,305.75" fill="#111"/>
<polygon points="118.5,349.6 122.9,336.6 118.5,339.85" fill="#111"/>
<path d="M116.6 311.5C115.5 324 108 333 97.2 335.8" fill="none" stroke="#111" stroke-width="1.15"/>
<polygon points="96.06,336.19 103.09,336.33 100.75,334.59 101.54,331.79" fill="#111"/>
<line x1="46.1" y1="373.15" x2="58.8" y2="366" stroke="#4656dc" stroke-width="1.15"/>
<line x1="48.14" y1="374.12" x2="58.57" y2="368.25" stroke="#4656dc" stroke-width="1.15"/>
<line x1="58.8" y1="366" x2="71.5" y2="373.15" stroke="#4656dc" stroke-width="1.15"/>
<line x1="71.5" y1="373.15" x2="71.5" y2="387.45" stroke="#4656dc" stroke-width="1.15"/>
<line x1="69.65" y1="374.45" x2="69.65" y2="386.15" stroke="#4656dc" stroke-width="1.15"/>
<line x1="71.5" y1="387.45" x2="61.41" y2="393.13" stroke="#4656dc" stroke-width="1.15"/>
<line x1="46.1" y1="387.45" x2="56.19" y2="393.13" stroke="#4656dc" stroke-width="1.15"/>
<line x1="48.14" y1="386.48" x2="56.66" y2="391.27" stroke="#4656dc" stroke-width="1.15"/>
<line x1="46.1" y1="373.15" x2="46.1" y2="387.45" stroke="#4656dc" stroke-width="1.15"/>
<line x1="71.5" y1="387.45" x2="84.2" y2="394.6" stroke="#4656dc" stroke-width="1.15"/>
<line x1="71.5" y1="373.15" x2="81.59" y2="367.47" stroke="#4656dc" stroke-width="1.15"/>
<text x="81.95" y="368.08" fill="#4656dc" stroke="#4656dc" font-size="7.2" letter-spacing="-0.5" font-family='"Liberation Sans", Arial, sans-serif'>O<tspan dy="-2.16" font-size="4.46">-</tspan></text>
<line x1="46.1" y1="373.15" x2="33.4" y2="366" stroke="#4656dc" stroke-width="1.15"/>
<line x1="33.4" y1="366" x2="23.84" y2="371.38" stroke="#4656dc" stroke-width="1.15"/>
<text x="2.47" y="375.73" fill="#4656dc" stroke="#4656dc" font-size="7.2" letter-spacing="-0.5" font-family='"Liberation Sans", Arial, sans-serif'><tspan dy="-2.16" font-size="4.46">2-</tspan><tspan dy="2.16">O</tspan><tspan dy="1.58" font-size="5.04">3</tspan><tspan dy="-1.58">P</tspan>O</text>
<text x="56.45" y="396.68" fill="#4656dc" stroke="#4656dc" font-size="7.2" letter-spacing="-0.5" font-family='"Liberation Sans", Arial, sans-serif'>N</text>
<text x="56.45" y="402.78" fill="#4656dc" stroke="#4656dc" font-size="7.2" letter-spacing="-0.5" font-family='"Liberation Sans", Arial, sans-serif'>H</text>
<text x="58.36" y="390.26" fill="#4656dc" stroke="#4656dc" font-size="5.2" letter-spacing="-0.36" font-family='"Liberation Sans", Arial, sans-serif'>+</text>
<line x1="58.8" y1="366" x2="58.8" y2="351.7" stroke="#4656dc" stroke-width="1.15"/>
<line x1="58.8" y1="351.7" x2="68.84" y2="345.02" stroke="#4656dc" stroke-width="1.15"/>
<line x1="58.02" y1="349.99" x2="67.31" y2="343.81" stroke="#4656dc" stroke-width="1.15"/>
<text x="69.15" y="345.83" fill="#4656dc" stroke="#4656dc" font-size="7.2" letter-spacing="-0.5" font-family='"Liberation Sans", Arial, sans-serif'>N</text>
<text x="70.16" y="351.11" fill="#4656dc" stroke="#4656dc" font-size="5.2" letter-spacing="-0.36" font-family='"Liberation Sans", Arial, sans-serif'>+</text>
<line x1="74.16" y1="345.02" x2="81.7" y2="350.04" stroke="#4656dc" stroke-width="1.15"/>
<text x="81.85" y="354.28" fill="#4656dc" stroke="#4656dc" font-size="7.2" letter-spacing="-0.5" font-family='"Liberation Sans", Arial, sans-serif'>H</text>
<line x1="84.2" y1="355.1" x2="84.2" y2="362.6" stroke="#4656dc" stroke-width="1.15" stroke-dasharray="1.6 1.5"/>
<line x1="71.5" y1="339.85" x2="71.5" y2="327.55" stroke="#4656dc" stroke-width="1.15"/>
<line x1="71.5" y1="327.55" x2="60.2" y2="318.2" stroke="#4656dc" stroke-width="1.15"/>
<text x="49.46" y="318.38" fill="#4656dc" stroke="#4656dc" font-size="7.2" letter-spacing="-0.5" font-family='"Liberation Sans", Arial, sans-serif'>Lys</text>
<line x1="146.4" y1="386" x2="133.11" y2="378.52" stroke="#111" stroke-width="1.15"/>
<text x="115.36" y="379.63" fill="#111" stroke="#111" font-size="7.2" letter-spacing="-0.5" font-family='"Liberation Sans", Arial, sans-serif'><tspan dy="-2.16" font-size="4.46">-</tspan><tspan dy="2.16">O</tspan>OC</text>
<line x1="145.76" y1="384.87" x2="161.66" y2="375.92" stroke="#111" stroke-width="1.15"/>
<line x1="147.04" y1="387.13" x2="162.94" y2="378.18" stroke="#111" stroke-width="1.15"/>
<line x1="146.4" y1="386" x2="146.4" y2="402.4" stroke="#111" stroke-width="1.15"/>
<text x="143.85" y="409.18" fill="#111" stroke="#111" font-size="7.2" letter-spacing="-0.5" font-family='"Liberation Sans", Arial, sans-serif'>NH<tspan dy="1.58" font-size="5.04">2</tspan></text>
<line x1="188" y1="393.6" x2="242" y2="393.6" stroke="#111" stroke-width="1.2"/>
<line x1="189" y1="395.6" x2="243" y2="395.6" stroke="#111" stroke-width="1.2"/>
<polygon points="243,394.1 229.5,389 232.88,394.1" fill="#111"/>
<polygon points="188,395.1 201.5,400.2 198.12,395.1" fill="#111"/>
<text x="216.8" y="385.2" fill="#111" stroke="#111" font-size="7.7" text-anchor="middle" font-family='"Liberation Serif", "Times New Roman", serif'>Tautomerization</text>
<line x1="300" y1="387" x2="286.71" y2="379.52" stroke="#111" stroke-width="1.15"/>
<text x="268.56" y="380.03" fill="#111" stroke="#111" font-size="7.2" letter-spacing="-0.5" font-family='"Liberation Sans", Arial, sans-serif'><tspan dy="-2.16" font-size="4.46">-</tspan><tspan dy="2.16">O</tspan>OC</text>
<line x1="300" y1="387" x2="317" y2="377.2" stroke="#111" stroke-width="1.15"/>
<line x1="301.2" y1="387" x2="301.2" y2="403" stroke="#111" stroke-width="1.15"/>
<line x1="298.8" y1="387" x2="298.8" y2="403" stroke="#111" stroke-width="1.15"/>
<text x="297.45" y="409.38" fill="#111" stroke="#111" font-size="7.2" letter-spacing="-0.5" font-family='"Liberation Sans", Arial, sans-serif'>NH</text>
<line x1="348" y1="391" x2="402" y2="391" stroke="#111" stroke-width="1.2"/>
<line x1="349" y1="393" x2="403" y2="393" stroke="#111" stroke-width="1.2"/>
<polygon points="403,391.5 389.5,386.4 392.88,391.5" fill="#111"/>
<polygon points="348,392.5 361.5,397.6 358.12,392.5" fill="#111"/>
<path d="M351 376.2C353.5 384 359 390 369 390.6" fill="none" stroke="#111" stroke-width="1.15"/>
<text x="344" y="371.94" fill="#111" stroke="#111" font-size="7.7" letter-spacing="0" font-family='"Liberation Serif", "Times New Roman", serif'>H<tspan dy="1.69" font-size="5.39">2</tspan><tspan dy="-1.69">O</tspan></text>
<text x="377.5" y="407.6" fill="#111" stroke="#111" font-size="7.7" text-anchor="middle" font-family='"Liberation Serif", "Times New Roman", serif'>Hydrolysis</text>
<ellipse cx="463.7" cy="386" rx="44.7" ry="32.4" fill="none" stroke="#111" stroke-width="1.2"/>
<line x1="463" y1="378" x2="449.69" y2="370.17" stroke="#111" stroke-width="1.15"/>
<text x="432.76" y="371.03" fill="#111" stroke="#111" font-size="7.2" letter-spacing="-0.5" font-family='"Liberation Sans", Arial, sans-serif'><tspan dy="-2.16" font-size="4.46">-</tspan><tspan dy="2.16">O</tspan>OC</text>
<line x1="463" y1="378" x2="480.3" y2="369.45" stroke="#111" stroke-width="1.15"/>
<line x1="464.2" y1="378" x2="464.2" y2="394.6" stroke="#111" stroke-width="1.15"/>
<line x1="461.8" y1="378" x2="461.8" y2="394.6" stroke="#111" stroke-width="1.15"/>
<text x="460.65" y="400.98" fill="#111" stroke="#111" font-size="7.2" letter-spacing="-0.5" font-family='"Liberation Sans", Arial, sans-serif'>O</text>
<text x="465.3" y="411" fill="#111" stroke="#111" font-size="7.7" text-anchor="middle" font-family='"Liberation Serif", "Times New Roman", serif'>Pyruvate</text>
<ellipse cx="558.5" cy="385.8" rx="28.1" ry="20.2" fill="none" stroke="#111" stroke-width="1.2"/>
<text x="551.09" y="382.14" fill="#111" stroke="#111" font-size="7.7" letter-spacing="0" font-family='"Liberation Serif", "Times New Roman", serif'>NH<tspan dy="1.69" font-size="5.39">3</tspan></text>
<text x="558.1" y="395.6" fill="#111" stroke="#111" font-size="7.7" text-anchor="middle" font-family='"Liberation Serif", "Times New Roman", serif'>Ammonia</text>
</svg></body></html>
